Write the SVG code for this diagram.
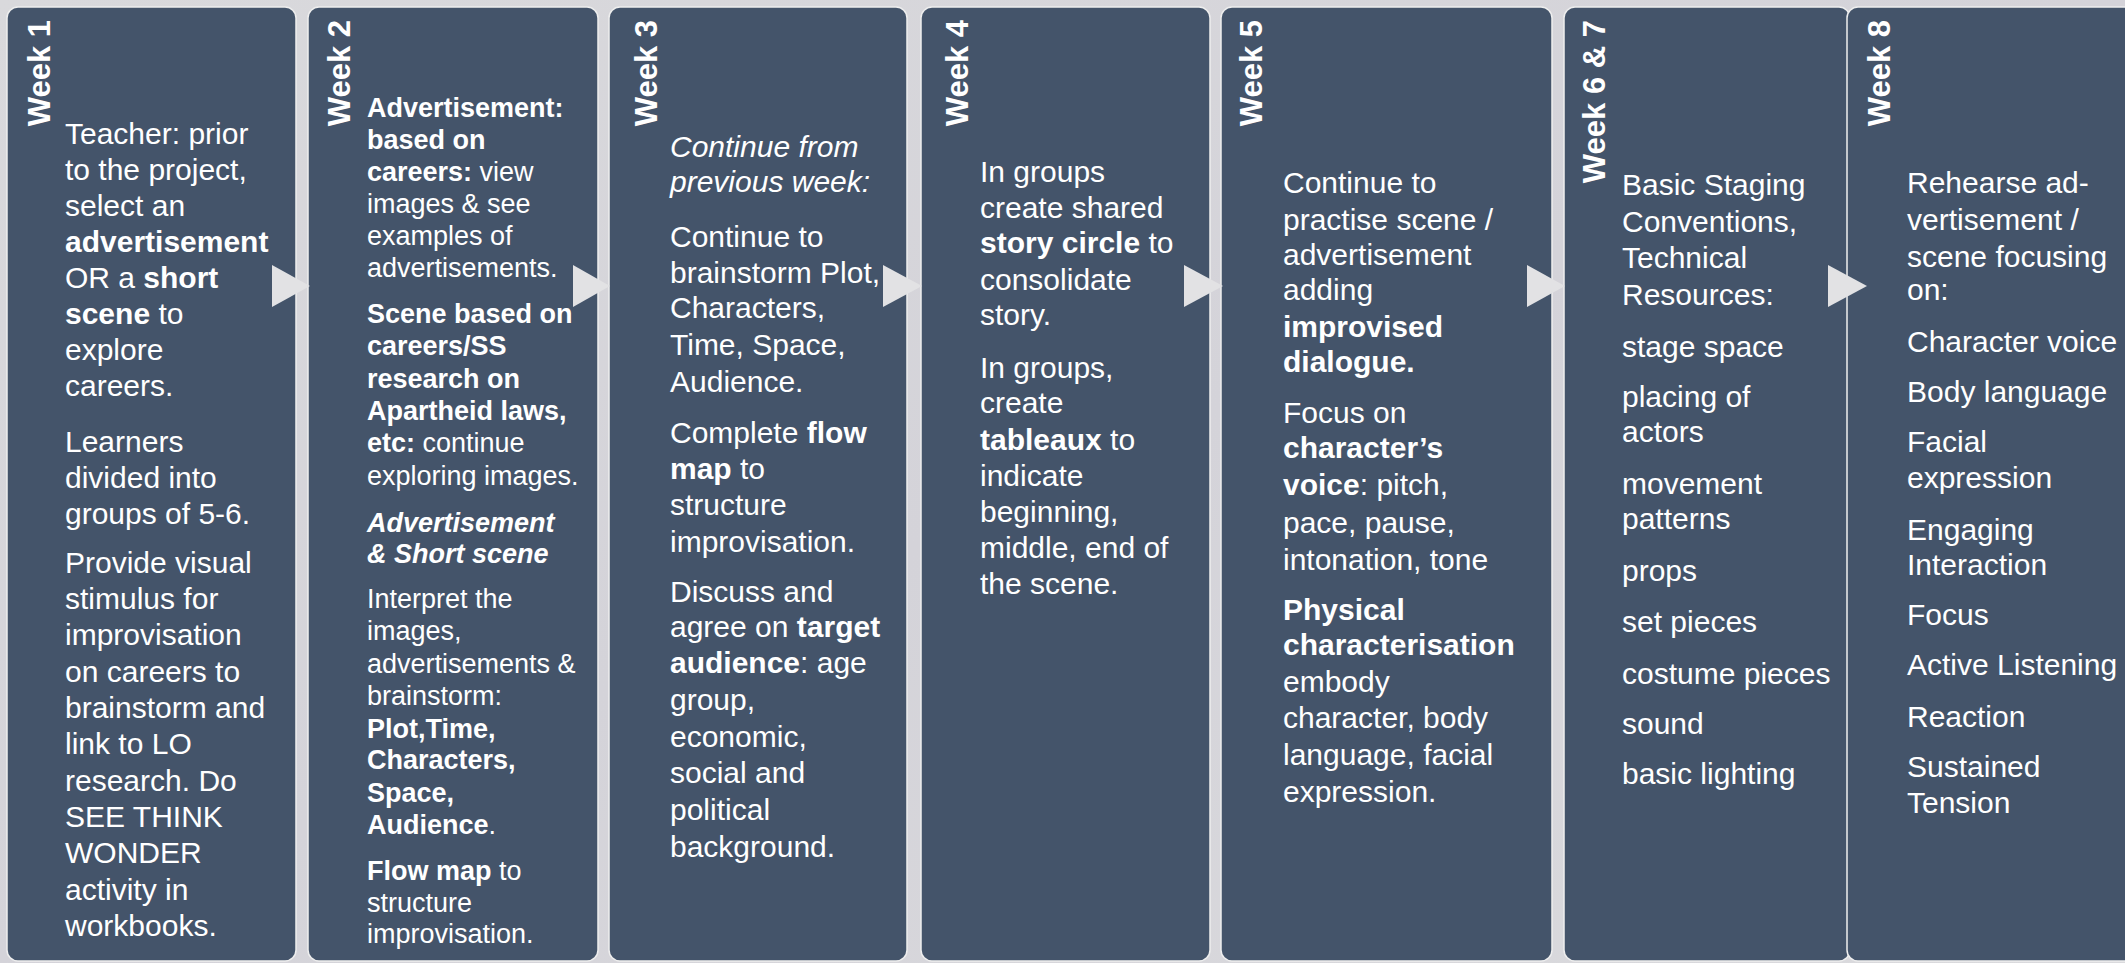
<svg xmlns="http://www.w3.org/2000/svg" width="2125" height="963" viewBox="0 0 2125 963">
  <style>
    .panel { fill: #44546a; stroke: #eeeeee; stroke-width: 1.5; }
    .arrow { fill: #e2e2e4; }
    .wk { font-family: "Liberation Sans", Arial, sans-serif; font-weight: bold; font-size: 31px; fill: #ffffff; }
    .t { font-family: "Liberation Sans", Arial, sans-serif; font-size: 30px; fill: #ffffff; }
    .s { font-size: 27px; }
    .b { font-weight: bold; }
    .i { font-style: italic; }
  </style>
  <defs>
    <linearGradient id="bg" x1="0" y1="0" x2="1" y2="1">
      <stop offset="0" stop-color="#d9d9dc"/>
      <stop offset="0.5" stop-color="#d4d3d9"/>
      <stop offset="1" stop-color="#dadadd"/>
    </linearGradient>
  </defs>

  <!-- backdrop -->
  <rect x="0" y="0" width="2125" height="963" fill="url(#bg)"/>

  <!-- Week 1 -->
  <g id="week1">
    <rect class="panel" x="7" y="7" width="289" height="954" rx="11"/>
    <text class="wk" transform="translate(50,20) rotate(-90)" text-anchor="end">Week 1</text>
    <text class="t">
      <tspan x="65" y="144">Teacher: prior</tspan>
      <tspan x="65" y="180">to the project,</tspan>
      <tspan x="65" y="216">select an</tspan>
      <tspan x="65" y="252" class="b">advertisement</tspan>
      <tspan x="65" y="288">OR a <tspan class="b">short</tspan></tspan>
      <tspan x="65" y="324"><tspan class="b">scene</tspan> to</tspan>
      <tspan x="65" y="360">explore</tspan>
      <tspan x="65" y="396">careers.</tspan>
      <tspan x="65" y="452">Learners</tspan>
      <tspan x="65" y="488">divided into</tspan>
      <tspan x="65" y="524">groups of 5-6.</tspan>
      <tspan x="65" y="573">Provide visual</tspan>
      <tspan x="65" y="609">stimulus for</tspan>
      <tspan x="65" y="645">improvisation</tspan>
      <tspan x="65" y="682">on careers to</tspan>
      <tspan x="65" y="718">brainstorm and</tspan>
      <tspan x="65" y="754">link to LO</tspan>
      <tspan x="65" y="791">research. Do</tspan>
      <tspan x="65" y="827">SEE THINK</tspan>
      <tspan x="65" y="863">WONDER</tspan>
      <tspan x="65" y="900">activity in</tspan>
      <tspan x="65" y="936">workbooks.</tspan>
    </text>
  </g>

  <!-- Week 2 -->
  <g id="week2">
    <rect class="panel" x="308" y="7" width="290" height="954" rx="11"/>
    <text class="wk" transform="translate(350,20) rotate(-90)" text-anchor="end">Week 2</text>
    <text class="t s">
      <tspan x="367" y="117" class="b">Advertisement:</tspan>
      <tspan x="367" y="149" class="b">based on</tspan>
      <tspan x="367" y="181"><tspan class="b">careers:</tspan> view</tspan>
      <tspan x="367" y="213">images &amp; see</tspan>
      <tspan x="367" y="245">examples of</tspan>
      <tspan x="367" y="277">advertisements.</tspan>
      <tspan x="367" y="323" class="b">Scene based on</tspan>
      <tspan x="367" y="355" class="b">careers/SS</tspan>
      <tspan x="367" y="388" class="b">research on</tspan>
      <tspan x="367" y="420" class="b">Apartheid laws,</tspan>
      <tspan x="367" y="452"><tspan class="b">etc:</tspan> continue</tspan>
      <tspan x="367" y="485">exploring images.</tspan>
      <tspan x="367" y="532" class="b i">Advertisement</tspan>
      <tspan x="367" y="563" class="b i">&amp; Short scene</tspan>
      <tspan x="367" y="608">Interpret the</tspan>
      <tspan x="367" y="640">images,</tspan>
      <tspan x="367" y="673">advertisements &amp;</tspan>
      <tspan x="367" y="705">brainstorm:</tspan>
      <tspan x="367" y="738" class="b">Plot,Time,</tspan>
      <tspan x="367" y="769" class="b">Characters,</tspan>
      <tspan x="367" y="802" class="b">Space,</tspan>
      <tspan x="367" y="834"><tspan class="b">Audience</tspan>.</tspan>
      <tspan x="367" y="880"><tspan class="b">Flow map</tspan> to</tspan>
      <tspan x="367" y="912">structure</tspan>
      <tspan x="367" y="943">improvisation.</tspan>
    </text>
  </g>

  <!-- Week 3 -->
  <g id="week3">
    <rect class="panel" x="609" y="7" width="298" height="954" rx="11"/>
    <text class="wk" transform="translate(657,20) rotate(-90)" text-anchor="end">Week 3</text>
    <text class="t">
      <tspan x="670" y="157" class="i">Continue from</tspan>
      <tspan x="670" y="192" class="i">previous week:</tspan>
      <tspan x="670" y="247">Continue to</tspan>
      <tspan x="670" y="283">brainstorm Plot,</tspan>
      <tspan x="670" y="318">Characters,</tspan>
      <tspan x="670" y="355">Time, Space,</tspan>
      <tspan x="670" y="392">Audience.</tspan>
      <tspan x="670" y="443">Complete <tspan class="b">flow</tspan></tspan>
      <tspan x="670" y="479"><tspan class="b">map</tspan> to</tspan>
      <tspan x="670" y="515">structure</tspan>
      <tspan x="670" y="552">improvisation.</tspan>
      <tspan x="670" y="602">Discuss and</tspan>
      <tspan x="670" y="637">agree on <tspan class="b">target</tspan></tspan>
      <tspan x="670" y="673"><tspan class="b">audience</tspan>: age</tspan>
      <tspan x="670" y="710">group,</tspan>
      <tspan x="670" y="747">economic,</tspan>
      <tspan x="670" y="783">social and</tspan>
      <tspan x="670" y="820">political</tspan>
      <tspan x="670" y="857">background.</tspan>
    </text>
  </g>

  <!-- Week 4 -->
  <g id="week4">
    <rect class="panel" x="921" y="7" width="289" height="954" rx="11"/>
    <text class="wk" transform="translate(968,20) rotate(-90)" text-anchor="end">Week 4</text>
    <text class="t">
      <tspan x="980" y="182">In groups</tspan>
      <tspan x="980" y="218">create shared</tspan>
      <tspan x="980" y="253"><tspan class="b">story circle</tspan> to</tspan>
      <tspan x="980" y="290">consolidate</tspan>
      <tspan x="980" y="325">story.</tspan>
      <tspan x="980" y="378">In groups,</tspan>
      <tspan x="980" y="413">create</tspan>
      <tspan x="980" y="450"><tspan class="b">tableaux</tspan> to</tspan>
      <tspan x="980" y="486">indicate</tspan>
      <tspan x="980" y="522">beginning,</tspan>
      <tspan x="980" y="558">middle, end of</tspan>
      <tspan x="980" y="594">the scene.</tspan>
    </text>
  </g>

  <!-- Week 5 -->
  <g id="week5">
    <rect class="panel" x="1221" y="7" width="331" height="954" rx="11"/>
    <text class="wk" transform="translate(1262,20) rotate(-90)" text-anchor="end">Week 5</text>
    <text class="t">
      <tspan x="1283" y="193">Continue to</tspan>
      <tspan x="1283" y="230">practise scene /</tspan>
      <tspan x="1283" y="265">advertisement</tspan>
      <tspan x="1283" y="300">adding</tspan>
      <tspan x="1283" y="337" class="b">improvised</tspan>
      <tspan x="1283" y="372" class="b">dialogue.</tspan>
      <tspan x="1283" y="423">Focus on</tspan>
      <tspan x="1283" y="458" class="b">character’s</tspan>
      <tspan x="1283" y="495"><tspan class="b">voice</tspan>: pitch,</tspan>
      <tspan x="1283" y="533">pace, pause,</tspan>
      <tspan x="1283" y="570">intonation, tone</tspan>
      <tspan x="1283" y="620" class="b">Physical</tspan>
      <tspan x="1283" y="655" class="b">characterisation</tspan>
      <tspan x="1283" y="692">embody</tspan>
      <tspan x="1283" y="728">character, body</tspan>
      <tspan x="1283" y="765">language, facial</tspan>
      <tspan x="1283" y="802">expression.</tspan>
    </text>
  </g>

  <!-- Week 6 & 7 -->
  <g id="week6-7">
    <rect class="panel" x="1564" y="7" width="286" height="954" rx="11"/>
    <text class="wk" transform="translate(1605,20) rotate(-90)" text-anchor="end">Week 6 &amp; 7</text>
    <text class="t">
      <tspan x="1622" y="195">Basic Staging</tspan>
      <tspan x="1622" y="232">Conventions,</tspan>
      <tspan x="1622" y="268">Technical</tspan>
      <tspan x="1622" y="305">Resources:</tspan>
      <tspan x="1622" y="357">stage space</tspan>
      <tspan x="1622" y="407">placing of</tspan>
      <tspan x="1622" y="442">actors</tspan>
      <tspan x="1622" y="494">movement</tspan>
      <tspan x="1622" y="529">patterns</tspan>
      <tspan x="1622" y="581">props</tspan>
      <tspan x="1622" y="632">set pieces</tspan>
      <tspan x="1622" y="684">costume pieces</tspan>
      <tspan x="1622" y="734">sound</tspan>
      <tspan x="1622" y="784">basic lighting</tspan>
    </text>
  </g>

  <!-- Week 8 -->
  <g id="week8">
    <rect class="panel" x="1847" y="7" width="300" height="954" rx="11"/>
    <text class="wk" transform="translate(1890,20) rotate(-90)" text-anchor="end">Week 8</text>
    <text class="t">
      <tspan x="1907" y="193">Rehearse ad-</tspan>
      <tspan x="1907" y="230">vertisement /</tspan>
      <tspan x="1907" y="267">scene focusing</tspan>
      <tspan x="1907" y="300">on:</tspan>
      <tspan x="1907" y="352">Character voice</tspan>
      <tspan x="1907" y="402">Body language</tspan>
      <tspan x="1907" y="452">Facial</tspan>
      <tspan x="1907" y="488">expression</tspan>
      <tspan x="1907" y="540">Engaging</tspan>
      <tspan x="1907" y="575">Interaction</tspan>
      <tspan x="1907" y="625">Focus</tspan>
      <tspan x="1907" y="675">Active Listening</tspan>
      <tspan x="1907" y="727">Reaction</tspan>
      <tspan x="1907" y="777">Sustained</tspan>
      <tspan x="1907" y="813">Tension</tspan>
    </text>
  </g>

  <!-- step arrows between weeks -->
  <g id="connectors">
    <polygon class="arrow" points="272,265 310,286 272,307"/>
    <polygon class="arrow" points="573,265 610,286 573,307"/>
    <polygon class="arrow" points="883,265 922,286 883,307"/>
    <polygon class="arrow" points="1184,265 1223,286 1184,307"/>
    <polygon class="arrow" points="1527,265 1565,286 1527,307"/>
    <polygon class="arrow" points="1828,265 1867,286 1828,307"/>
  </g>
</svg>
